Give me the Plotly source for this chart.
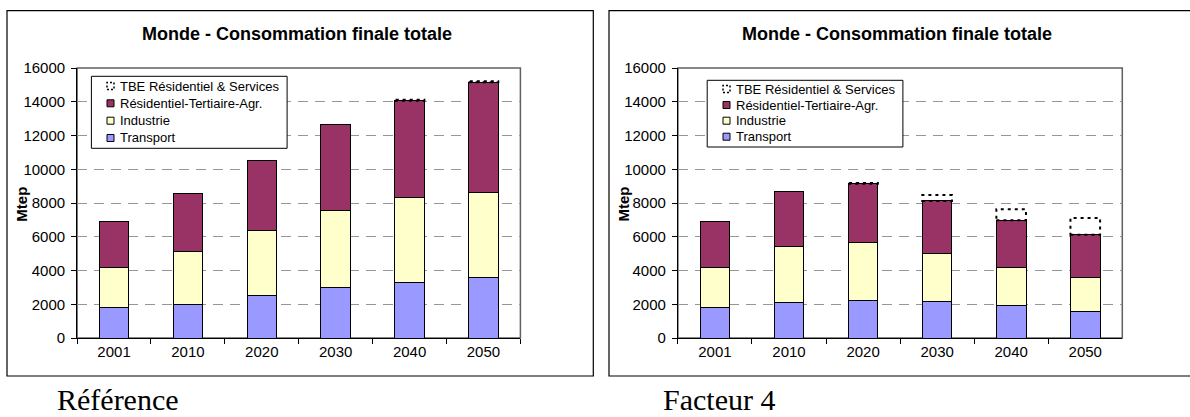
import plotly.graph_objects as go

# ---------------- data ----------------
categories = ["2001", "2010", "2020", "2030", "2040", "2050"]

ref_transport = [1800, 2000, 2500, 3000, 3300, 3575]
ref_industrie = [2350, 3150, 3900, 4565, 5015, 5055]
ref_residentiel = [2750, 3425, 4090, 5095, 5750, 6520]
ref_tbe = [0, 0, 0, 0, 50, 60]

fac_transport = [1800, 2075, 2235, 2155, 1925, 1575]
fac_industrie = [2350, 3320, 3420, 2840, 2225, 2003]
fac_residentiel = [2750, 3260, 3490, 3130, 2825, 2537]
fac_tbe = [0, 0, 35, 345, 660, 1000]

series_names = ["Transport", "Industrie", "Résidentiel-Tertiaire-Agr."]
tbe_name = "TBE Résidentiel & Services"
series_colors = ["#9999FF", "#FFFFCC", "#993366"]

chart_title = "Monde - Consommation finale totale"
y_title = "Mtep"
captions = ["Référence", "Facteur 4"]
y_ticks = list(range(0, 16001, 2000))
y_ticktext = [str(v) for v in y_ticks]

W, H = 1190, 417
BAR_W = 0.4


def px(x):
    return x / W


def py(y):
    return 1 - y / H


fig = go.Figure()

panels = [
    dict(data=[ref_transport, ref_industrie, ref_residentiel], tbe=ref_tbe,
         xa="x", ya="y",
         dom=[px(77.1), px(520.4)], box=(7, 593.3), title_x=297,
         mtep_x=20.7, cap_x=56,
         leg_box=(91.4, 76.3, 287.1, 148.3), leg_rows=[86, 103.3, 120.7, 138],
         leg_sym=107, leg_text=118.9),
    dict(data=[fac_transport, fac_industrie, fac_residentiel], tbe=fac_tbe,
         xa="x2", ya="y2",
         dom=[px(677.9), px(1122.3)], box=(609, 1200), title_x=897,
         mtep_x=622.6, cap_x=662,
         leg_box=(707.2, 80.3, 902.9, 147.0), leg_rows=[89, 105, 120.7, 136.7],
         leg_sym=723, leg_text=734.7),
]

shapes = []
annotations = []
LEG_FONT = dict(family="Liberation Sans", size=13, color="black")
SYM = 7

for p_i, p in enumerate(panels):
    for k, (name, col, vals) in enumerate(zip(series_names, series_colors, p["data"])):
        fig.add_trace(go.Bar(
            x=categories, y=vals, name=name,
            marker=dict(color=col, line=dict(color="black", width=1)),
            xaxis=p["xa"], yaxis=p["ya"], showlegend=False, hoverinfo="skip",
        ))
    totals = [a + b + c for a, b, c in zip(*p["data"])]
    for i, (t, extra) in enumerate(zip(totals, p["tbe"])):
        if extra <= 0:
            continue
        shapes.append(dict(
            type="rect", xref=p["xa"], yref=p["ya"],
            x0=i - BAR_W / 2, x1=i + BAR_W / 2, y0=t, y1=t + extra,
            line=dict(color="black", width=2, dash="3px,4px"),
            fillcolor="rgba(0,0,0,0)", layer="above",
        ))

    # plot frame (top/right in gray)
    shapes.append(dict(type="rect", xref=p["xa"] + " domain", yref=p["ya"] + " domain",
                       x0=0, x1=1, y0=0, y1=1, line=dict(color="#606060", width=1.5),
                       layer="below"))
    # outer chart box
    shapes.append(dict(type="rect", xref="paper", yref="paper",
                       x0=px(p["box"][0]), x1=px(p["box"][1]), y0=py(376), y1=py(10.7),
                       line=dict(color="black", width=1.2), layer="below"))

    # legend (box, symbols, labels)
    bx0, by0, bx1, by1 = p["leg_box"]
    shapes.append(dict(type="rect", xref="paper", yref="paper",
                       x0=px(bx0), x1=px(bx1), y0=py(by1), y1=py(by0),
                       line=dict(color="black", width=1), fillcolor="white", layer="above"))
    leg_items = [(tbe_name, None)] + list(zip(series_names, series_colors))[::-1]
    for (lab, col), ry in zip(leg_items, p["leg_rows"]):
        sx0 = p["leg_sym"]
        if col is None:
            shapes.append(dict(type="rect", xref="paper", yref="paper",
                               x0=px(sx0), x1=px(sx0 + SYM), y0=py(ry + SYM / 2), y1=py(ry - SYM / 2),
                               line=dict(color="black", width=1.5, dash="2px,2px"),
                               fillcolor="rgba(0,0,0,0)", layer="above"))
        else:
            shapes.append(dict(type="rect", xref="paper", yref="paper",
                               x0=px(sx0), x1=px(sx0 + SYM), y0=py(ry + SYM / 2), y1=py(ry - SYM / 2),
                               line=dict(color="black", width=1),
                               fillcolor=col, layer="above"))
        annotations.append(dict(text=lab, xref="paper", yref="paper",
                                x=px(p["leg_text"]), y=py(ry), xanchor="left", yanchor="middle",
                                showarrow=False, font=LEG_FONT, borderpad=0))

    annotations.append(dict(text="<b>%s</b>" % chart_title, xref="paper", yref="paper",
                            x=px(p["title_x"]), y=py(34), xanchor="center", yanchor="middle",
                            showarrow=False, font=dict(family="Liberation Sans", size=18, color="black")))
    annotations.append(dict(text="<b>%s</b>" % y_title, xref="paper", yref="paper",
                            x=px(p["mtep_x"]), y=py(204), xanchor="center", yanchor="middle",
                            textangle=-90, showarrow=False,
                            font=dict(family="Liberation Sans", size=15, color="black")))
    annotations.append(dict(text=captions[p_i], xref="paper", yref="paper",
                            x=px(p["cap_x"]), y=0, xanchor="left", yanchor="bottom",
                            showarrow=False, borderpad=0,
                            font=dict(family="Liberation Serif", size=30, color="black")))

axis_common_x = dict(type="category", tickson="boundaries", ticks="outside", ticklen=5,
                     tickcolor="black", showline=True, linecolor="black", linewidth=1,
                     showgrid=False, tickfont=dict(family="Liberation Sans", size=15, color="black"),
                     range=[-0.5, 5.5], fixedrange=True, automargin=False)
axis_common_y = dict(range=[0, 16000], tickvals=y_ticks, ticktext=y_ticktext,
                     ticks="outside", ticklen=5,
                     tickcolor="black", showline=True, linecolor="black", linewidth=1,
                     showgrid=True, gridcolor="#969696", griddash="10px,7px", gridwidth=1,
                     zeroline=False, ticklabelstandoff=3, automargin=False,
                     tickfont=dict(family="Liberation Sans", size=15, color="black"),
                     fixedrange=True)

fig.update_layout(
    width=W, height=H, margin=dict(l=0, r=0, t=0, b=0, pad=0, autoexpand=False),
    autosize=False,
    paper_bgcolor="white", plot_bgcolor="white",
    barmode="stack", bargap=0.6,
    xaxis=dict(domain=panels[0]["dom"], anchor="y", **axis_common_x),
    yaxis=dict(domain=[py(338), py(68)], anchor="x", **axis_common_y),
    xaxis2=dict(domain=panels[1]["dom"], anchor="y2", **axis_common_x),
    yaxis2=dict(domain=[py(338), py(68)], anchor="x2", **axis_common_y),
    shapes=shapes, annotations=annotations, showlegend=False,
    font=dict(family="Liberation Sans", color="black"),
)

fig.write_html("out.html", config={"displayModeBar": False},
               post_script="document.body.style.margin='0';document.body.style.overflow='hidden';")
